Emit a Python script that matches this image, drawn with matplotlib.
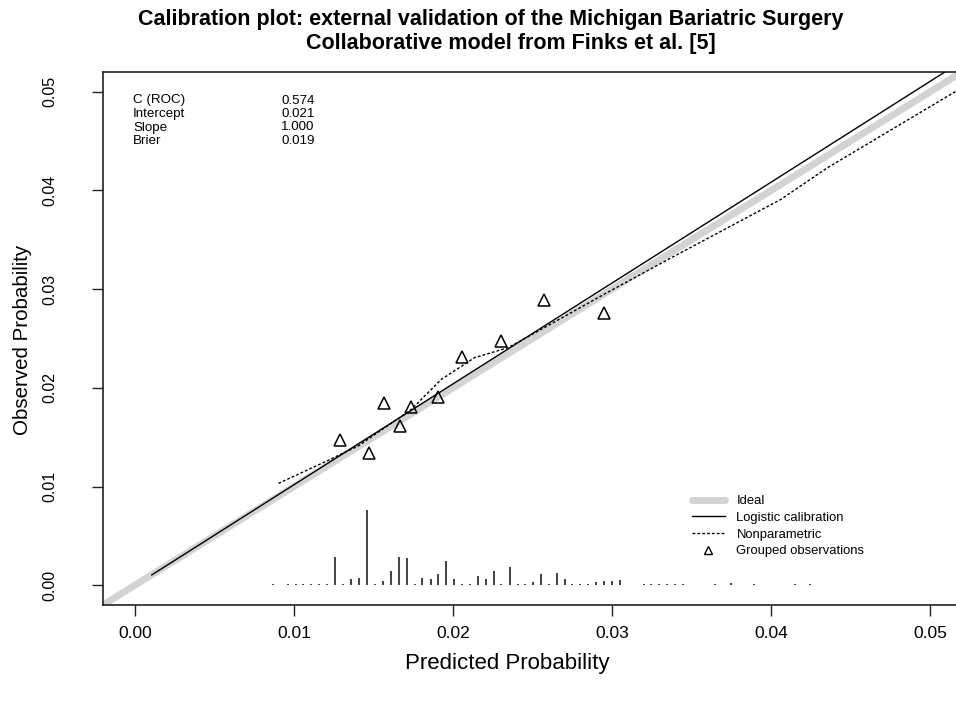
import matplotlib.pyplot as plt
from matplotlib.lines import Line2D
import numpy as np

plt.rcParams['font.family'] = ['Liberation Sans', 'DejaVu Sans']

# Grouped observations (deciles of predicted risk)
group_pred = [0.01292, 0.01474, 0.01568, 0.01669, 0.01738, 0.01907, 0.02058, 0.02302, 0.02572, 0.02949]
group_obs = [0.01468, 0.01336, 0.01842, 0.01609, 0.01802, 0.01903, 0.02308, 0.02470, 0.02895, 0.02763]

# Nonparametric (loess) calibration curve
np_pred = [0.00903, 0.01215, 0.01403, 0.01738, 0.01780, 0.01926, 0.02135, 0.02344,
           0.02553, 0.02970, 0.03390, 0.04059, 0.04352, 0.05160]
np_obs = [0.01032, 0.01265, 0.01410, 0.01781, 0.01849, 0.02085, 0.02305, 0.02406,
          0.02591, 0.02966, 0.03333, 0.03907, 0.04228, 0.05003]

# Logistic calibration line
logit_pred = [0.00107, 0.02000, 0.05200]
logit_obs = [0.00105, 0.02040, 0.05310]

# Ideal line
ideal = [-0.002, 0.052]

# Spike histogram of predicted probabilities
spike_pred = [0.00866, 0.00964, 0.01012, 0.01060, 0.01109, 0.01156, 0.01209, 0.01261,
              0.01309, 0.01361, 0.01410, 0.01460, 0.01512, 0.01562, 0.01608, 0.01661,
              0.01711, 0.01760, 0.01807, 0.01859, 0.01907, 0.01957, 0.02008, 0.02058,
              0.02106, 0.02158, 0.02206, 0.02257, 0.02304, 0.02357, 0.02407, 0.02455,
              0.02505, 0.02553, 0.02602, 0.02654, 0.02704, 0.02748, 0.02800, 0.02848,
              0.02898, 0.02949, 0.02999, 0.03051, 0.03198, 0.03245, 0.03298, 0.03348,
              0.03396, 0.03446, 0.03645, 0.03745, 0.03892, 0.04149, 0.04243]
spike_height = [0.00015, 0.00015, 0.00015, 0.00015, 0.00015, 0.00015, 0.00015, 0.00290,
                0.00015, 0.00060, 0.00070, 0.00760, 0.00015, 0.00040, 0.00145, 0.00290,
                0.00280, 0.00015, 0.00070, 0.00060, 0.00110, 0.00250, 0.00060, 0.00015,
                0.00015, 0.00090, 0.00060, 0.00140, 0.00015, 0.00186, 0.00015, 0.00015,
                0.00030, 0.00110, 0.00015, 0.00125, 0.00060, 0.00015, 0.00015, 0.00015,
                0.00030, 0.00040, 0.00040, 0.00050, 0.00015, 0.00015, 0.00015, 0.00015,
                0.00015, 0.00015, 0.00015, 0.00020, 0.00015, 0.00015, 0.00015]

stat_names = ['C (ROC)', 'Intercept', 'Slope', 'Brier']
stat_values = ['0.574', '0.021', '1.000', '0.019']

tick_vals = [0.00, 0.01, 0.02, 0.03, 0.04, 0.05]
tick_labels = ['0.00', '0.01', '0.02', '0.03', '0.04', '0.05']

W, H = 956, 706
fig = plt.figure(figsize=(W / 100, H / 100), dpi=100)
ax = fig.add_axes([103 / W, 101 / H, 859 / W, 533 / H])

ax.plot(ideal, ideal, color='#d3d3d3', lw=5, solid_capstyle='butt', zorder=1)
ax.plot(logit_pred, logit_obs, color='black', lw=1.0, zorder=3)
ax.plot(np_pred, np_obs, color='black', lw=1.0, linestyle=(0, (2, 1.5)), zorder=3)
ax.plot(group_pred, group_obs, linestyle='none', marker='^', markersize=8.5,
        markerfacecolor='none', markeredgecolor='black', markeredgewidth=1.1, zorder=4)
ax.vlines(spike_pred, 0, spike_height, color='#222222', lw=1.2, zorder=2)

ax.set_xlim(-0.002, 0.052)
ax.set_ylim(-0.002, 0.052)
ax.set_xticks(tick_vals)
ax.set_xticklabels(tick_labels, fontsize=12.5)
ax.set_yticks(tick_vals)
ax.set_yticklabels(tick_labels, fontsize=11.5, rotation=90, va='center')
ax.tick_params(axis='both', direction='out', length=8, width=1, color='#222222')
ax.tick_params(axis='x', pad=7)
ax.tick_params(axis='y', pad=25)
for s in ax.spines.values():
    s.set_linewidth(1.2)
    s.set_color('#222222')

ax.set_xlabel('Predicted Probability', fontsize=16, va='center')
ax.xaxis.set_label_coords((507 - 103) / 859, (605 - 663) / 533)
ax.set_ylabel('Observed Probability', fontsize=14.8, va='center')
ax.yaxis.set_label_coords((22 - 103) / 859, (605 - 340) / 533)

fig.text(491 / W, 1 - 19 / H, 'Calibration plot: external validation of the Michigan Bariatric Surgery',
         ha='center', va='center', fontsize=15.5, fontweight='bold')
fig.text(511 / W, 1 - 44 / H, 'Collaborative model from Finks et al. [5]',
         ha='center', va='center', fontsize=15.5, fontweight='bold')

# statistics block
for i, (name, val) in enumerate(zip(stat_names, stat_values)):
    yy = 1 - (100.5 + 13.5 * i) / H
    fig.text(133 / W, yy, name, ha='left', va='center', fontsize=9.6)
    fig.text(281 / W, yy, val, ha='left', va='center', fontsize=9.6)

handles = [
    Line2D([], [], color='#d3d3d3', lw=5, solid_capstyle='round'),
    Line2D([], [], color='black', lw=1.0),
    Line2D([], [], color='black', lw=1.0, linestyle=(0, (2, 1.5))),
    Line2D([], [], linestyle='none', marker='^', markersize=5.5, markerfacecolor='none',
           markeredgecolor='black', markeredgewidth=1.0),
]
labels = ['Ideal', 'Logistic calibration', 'Nonparametric', 'Grouped observations']
fig.legend(handles, labels, loc='upper left', bbox_to_anchor=(692 / W, 1 - 495 / H),
           frameon=False, fontsize=9.4, handlelength=2.5, handletextpad=0.9,
           labelspacing=0.35, borderpad=0, borderaxespad=0)

fig.savefig('out.png', dpi=100)
